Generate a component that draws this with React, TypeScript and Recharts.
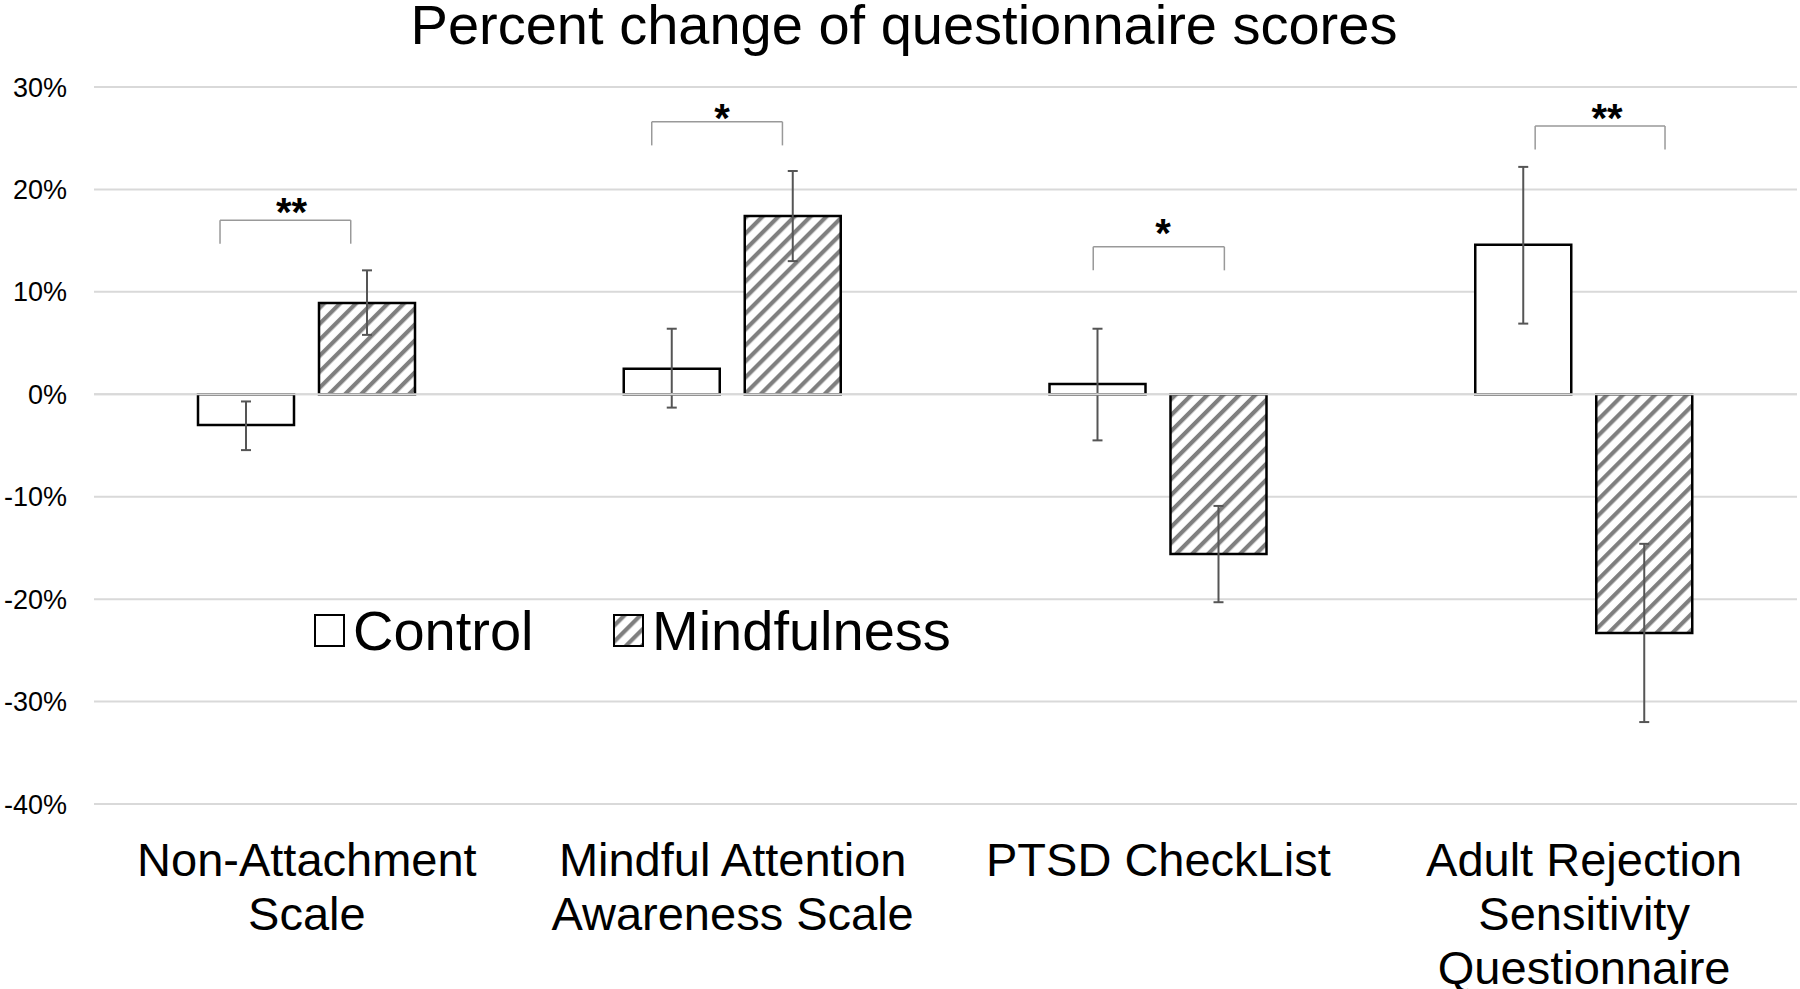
import React from 'react'
import {
  BarChart,
  Bar,
  XAxis,
  YAxis,
  CartesianGrid,
  ErrorBar,
  Legend,
  ReferenceLine,
  ReferenceDot,
} from 'recharts'

const FONT = '"Liberation Sans", Arial, Helvetica, sans-serif'

const categories = [
  'Non-Attachment\nScale',
  'Mindful Attention\nAwareness Scale',
  'PTSD CheckList',
  'Adult Rejection\nSensitivity\nQuestionnaire',
]
const controlValues = [-3.0, 2.5, 1.0, 14.6]
// [minus, plus]
const controlErrors = [[2.45, 2.3], [3.8, 3.9], [5.5, 5.4], [7.7, 7.6]]
const mindfulnessValues = [8.9, 17.4, -15.6, -23.3]
const mindfulnessErrors = [[3.1, 3.2], [4.4, 4.4], [4.7, 4.7], [8.7, 8.7]]
const yTicks = [-40, -30, -20, -10, 0, 10, 20, 30]

// significance brackets, x in category units (0..4 across the plot area)
const sigStart = [0.296, 1.31, 2.347, 3.385]
const sigEnd = [0.603, 1.617, 2.655, 3.69]
const sigTop = [17.0, 26.6, 14.4, 26.2]
const sigFoot = [14.7, 24.3, 12.1, 23.9]
const sigMarks = ['**', '*', '*', '**']
const sigMarkX = [0.464, 1.475, 2.511, 3.554]
const sigMarkY = [18.3, 27.5, 16.2, 27.5]

const data = categories.map((name, i) => ({
  name,
  slot: i + 0.5,
  control: controlValues[i],
  controlErr: controlErrors[i],
  mindfulness: mindfulnessValues[i],
  mindfulnessErr: mindfulnessErrors[i],
}))

function CategoryTick(props: any) {
  const { x, y, payload } = props
  const lines = String(payload.value).split('\n')
  return (
    <text x={x} y={y} textAnchor="middle" fontSize={47} fill="#000" fontFamily={FONT}>
      {lines.map((line, i) => (
        <tspan key={i} x={x} y={y + 72 + i * 54}>
          {line}
        </tspan>
      ))}
    </text>
  )
}

function renderLegend(props: any) {
  const payload = props.payload || []
  return (
    <svg width={700} height={70} style={{ display: 'block' }}>
      {payload.map((entry: any, i: number) => {
        const off = i * 299
        const fill = entry.payload?.fill ?? entry.color
        return (
          <g key={entry.value}>
            <rect x={15 + off} y={15} width={29} height={31} fill={fill} stroke="#000" strokeWidth={2} />
            <text x={53 + off} y={50} fontSize={56} fill="#000" fontFamily={FONT}>
              {entry.value}
            </text>
          </g>
        )
      })}
    </svg>
  )
}

function starLabel(mark: string) {
  return (props: any) => {
    const vb = props.viewBox || {}
    const cx = (vb.x ?? 0) + (vb.width ?? 0) / 2
    const cy = (vb.y ?? 0) + (vb.height ?? 0) / 2
    return (
      <text x={cx} y={cy + 19} textAnchor="middle" fontSize={40} fontWeight={700} fill="#000" fontFamily={FONT}>
        {mark}
      </text>
    )
  }
}

export default function App() {
  return (
    <div style={{ position: 'relative', width: 1800, height: 989, fontFamily: FONT, background: '#fff' }}>
      <style>{'body{margin:0;background:#fff}'}</style>
      <div
        style={{
          position: 'absolute',
          top: 0,
          left: 0,
          width: 1808,
          textAlign: 'center',
          fontSize: 56,
          lineHeight: '50px',
          color: '#000',
          zIndex: 2,
        }}
      >
        Percent change of questionnaire scores
      </div>
      <BarChart
        width={1800}
        height={989}
        data={data}
        margin={{ top: 87, right: 3, bottom: 0, left: 0 }}
        barSize={96}
        barGap={25}
      >
        <defs>
          <pattern id="hatch" patternUnits="userSpaceOnUse" width={11.3} height={11.3} patternTransform="rotate(45)">
            <rect width={11.3} height={11.3} fill="#fff" />
            <line x1={3} y1={0} x2={3} y2={11.3} stroke="#7f7f7f" strokeWidth={4.2} />
          </pattern>
        </defs>
        <CartesianGrid vertical={false} stroke="#d9d9d9" strokeWidth={2} />
        <XAxis
          dataKey="name"
          tick={<CategoryTick />}
          tickLine={false}
          axisLine={false}
          height={185}
          tickSize={0}
          tickMargin={0}
          interval={0}
        />
        <XAxis xAxisId="num" dataKey="slot" type="number" domain={[0, 4]} hide allowDataOverflow />
        <YAxis
          domain={[-40, 30]}
          ticks={yTicks}
          interval={0}
          width={94}
          tickLine={false}
          axisLine={false}
          tickSize={0}
          tickMargin={27}
          tickFormatter={(v) => `${v}%`}
          tick={{ fontSize: 27, fill: '#000', fontFamily: FONT }}
        />
        <Legend
          layout="horizontal"
          verticalAlign="middle"
          align="center"
          wrapperStyle={{ left: 300, top: 600, width: 700, height: 70 }}
          content={renderLegend}
        />
        <Bar dataKey="control" name="Control" fill="#fff" stroke="#000" strokeWidth={2.5} isAnimationActive={false}>
          <ErrorBar dataKey="controlErr" width={5} stroke="#555" strokeWidth={2} direction="y" />
        </Bar>
        <Bar
          dataKey="mindfulness"
          name="Mindfulness"
          fill="url(#hatch)"
          stroke="#000"
          strokeWidth={2.5}
          isAnimationActive={false}
        >
          <ErrorBar dataKey="mindfulnessErr" width={5} stroke="#555" strokeWidth={2} direction="y" />
        </Bar>
        <ReferenceLine y={0} stroke="#d9d9d9" strokeWidth={2} />
        {sigMarks.map((mark, i) => [
          <ReferenceLine
            key={`a${i}`}
            xAxisId="num"
            segment={[{ x: sigStart[i], y: sigFoot[i] }, { x: sigStart[i], y: sigTop[i] }]}
            stroke="#999"
            strokeWidth={1.5}
          />,
          <ReferenceLine
            key={`b${i}`}
            xAxisId="num"
            segment={[{ x: sigStart[i], y: sigTop[i] }, { x: sigEnd[i], y: sigTop[i] }]}
            stroke="#999"
            strokeWidth={1.5}
          />,
          <ReferenceLine
            key={`c${i}`}
            xAxisId="num"
            segment={[{ x: sigEnd[i], y: sigTop[i] }, { x: sigEnd[i], y: sigFoot[i] }]}
            stroke="#999"
            strokeWidth={1.5}
          />,
          <ReferenceDot
            key={`d${i}`}
            xAxisId="num"
            x={sigMarkX[i]}
            y={sigMarkY[i]}
            r={0}
            fill="none"
            stroke="none"
            ifOverflow="visible"
            label={starLabel(mark)}
          />,
        ])}
      </BarChart>
    </div>
  )
}
